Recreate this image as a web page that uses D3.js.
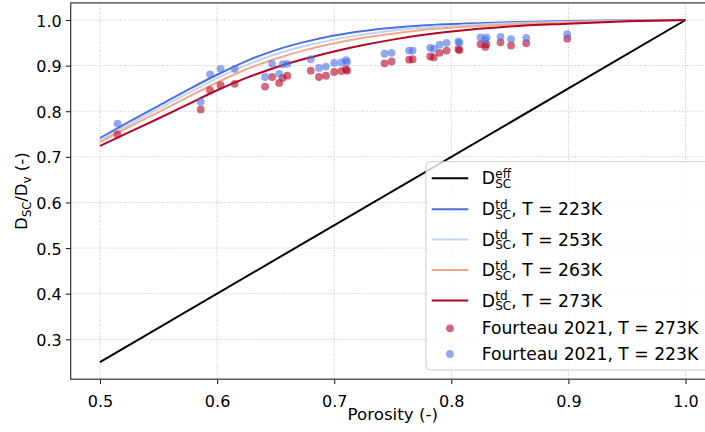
<!DOCTYPE html>
<html>
<head>
<meta charset="utf-8">
<script src="https://cdn.jsdelivr.net/npm/d3@7"></script>
<style>
  html, body { margin: 0; padding: 0; background: #ffffff; }
  svg { display: block; }
  text { font-family: "DejaVu Sans", sans-serif; fill: #000; }
</style>
</head>
<body>
<svg id="chart" width="705" height="432"></svg>
<script>
// Porosity grid for the modelled diffusivity curves
const porosityGrid = [0.500, 0.525, 0.550, 0.575, 0.600, 0.625, 0.650, 0.675, 0.700,
  0.725, 0.750, 0.775, 0.800, 0.850, 0.900, 0.950, 1.000];
// Effective diffusivity D_SC^eff (straight line)
const effPorosity = [0.50, 1.00];
const effValues = [0.25, 1.00];
// Temperature-dependent diffusivity D_SC^td for each temperature
const td223 = [0.741, 0.777, 0.812, 0.847, 0.880, 0.910, 0.934, 0.952, 0.966,
  0.976, 0.983, 0.988, 0.991, 0.995, 0.998, 0.999, 1.000];
const td253 = [0.737, 0.771, 0.805, 0.839, 0.872, 0.901, 0.925, 0.943, 0.957,
  0.968, 0.977, 0.983, 0.987, 0.993, 0.996, 0.998, 1.000];
const td263 = [0.732, 0.766, 0.798, 0.831, 0.863, 0.892, 0.915, 0.934, 0.949,
  0.961, 0.970, 0.978, 0.983, 0.990, 0.995, 0.998, 1.000];
const td273 = [0.724, 0.754, 0.784, 0.815, 0.846, 0.873, 0.896, 0.915, 0.931,
  0.945, 0.957, 0.967, 0.975, 0.986, 0.992, 0.997, 1.000];

// Fourteau 2021 samples
const fourteauPorosity = [0.515, 0.586, 0.594, 0.603, 0.615, 0.641, 0.647, 0.653, 0.656, 0.660,
  0.680, 0.687, 0.693, 0.700, 0.706, 0.710, 0.711, 0.743, 0.749, 0.764, 0.767, 0.782, 0.785,
  0.790, 0.796, 0.806, 0.807, 0.825, 0.829, 0.830, 0.842, 0.851, 0.864, 0.899];
const fourteau273 = [0.749, 0.804, 0.846, 0.857, 0.860, 0.854, 0.875, 0.862, 0.873, 0.878,
  0.889, 0.875, 0.878, 0.886, 0.888, 0.892, 0.889, 0.905, 0.909, 0.913, 0.914, 0.920, 0.918,
  0.928, 0.933, 0.936, 0.934, 0.947, 0.941, 0.947, 0.951, 0.944, 0.949, 0.959];
const fourteau223 = [0.773, 0.821, 0.881, 0.893, 0.893, 0.875, 0.904, 0.882, 0.903, 0.904,
  0.914, 0.895, 0.898, 0.906, 0.907, 0.912, 0.908, 0.926, 0.928, 0.933, 0.933, 0.939, 0.937,
  0.946, 0.950, 0.953, 0.950, 0.962, 0.956, 0.962, 0.963, 0.958, 0.961, 0.969];

const xTicks = [0.5, 0.6, 0.7, 0.8, 0.9, 1.0];
const yTicks = [0.3, 0.4, 0.5, 0.6, 0.7, 0.8, 0.9, 1.0];

const colors = {
  eff: "#000000",
  t223: "#4a6fe3",
  t253: "#c0d4f5",
  t263: "#f5a889",
  t273: "#b40426"
};

const svg = d3.select("#chart");

const plot = { left: 70.7, right: 714.8, top: 2.9, bottom: 379.2 };
const x = d3.scaleLinear().domain([0.475, 1.025]).range([plot.left, plot.right]);
const y = d3.scaleLinear().domain([0.2125, 1.0375]).range([plot.bottom, plot.top]);

// Dotted grid
const grid = svg.append("g");
grid.selectAll("line.gx").data(xTicks).join("line")
  .attr("x1", d => x(d)).attr("x2", d => x(d))
  .attr("y1", plot.top).attr("y2", plot.bottom)
  .attr("stroke", "#b0b0b0").attr("stroke-width", 0.8).attr("stroke-dasharray", "1,1.6");
grid.selectAll("line.gy").data(yTicks).join("line")
  .attr("x1", plot.left).attr("x2", plot.right)
  .attr("y1", d => y(d)).attr("y2", d => y(d))
  .attr("stroke", "#b0b0b0").attr("stroke-width", 0.8).attr("stroke-dasharray", "1,1.6");

const line = d3.line().x(d => x(d[0])).y(d => y(d[1])).curve(d3.curveMonotoneX);

const curves = [
  { vals: td223, color: colors.t223 },
  { vals: td253, color: colors.t253 },
  { vals: td263, color: colors.t263 },
  { vals: td273, color: colors.t273 }
];

const body = svg.append("g");
body.append("path")
  .attr("d", line(effPorosity.map((p, i) => [p, effValues[i]])))
  .attr("fill", "none").attr("stroke", colors.eff).attr("stroke-width", 2);
curves.forEach(c => {
  body.append("path")
    .attr("d", line(porosityGrid.map((p, i) => [p, c.vals[i]])))
    .attr("fill", "none").attr("stroke", c.color).attr("stroke-width", 2);
});

// Scatter points
body.selectAll("circle.r").data(fourteauPorosity.map((p, i) => [p, fourteau273[i]])).join("circle")
  .attr("cx", d => x(d[0])).attr("cy", d => y(d[1])).attr("r", 3.9)
  .attr("fill", colors.t273).attr("fill-opacity", 0.6);
body.selectAll("circle.b").data(fourteauPorosity.map((p, i) => [p, fourteau223[i]])).join("circle")
  .attr("cx", d => x(d[0])).attr("cy", d => y(d[1])).attr("r", 3.9)
  .attr("fill", colors.t223).attr("fill-opacity", 0.6);

// Axes
const xAxis = svg.append("g").attr("transform", `translate(0,${plot.bottom})`)
  .call(d3.axisBottom(x).tickValues(xTicks).tickFormat(d3.format(".1f")).tickSize(4.9).tickSizeOuter(0));
const yAxis = svg.append("g").attr("transform", `translate(${plot.left},0)`)
  .call(d3.axisLeft(y).tickValues(yTicks).tickFormat(d3.format(".1f")).tickSize(4.9).tickSizeOuter(0));
[xAxis, yAxis].forEach(a => {
  a.select(".domain").remove();
  a.selectAll(".tick line").attr("stroke", "#222").attr("stroke-width", 1.1);
  a.selectAll(".tick text").attr("font-size", 16).attr("font-family", "DejaVu Sans").attr("fill", "#000");
});
xAxis.selectAll(".tick text").attr("y", 28).attr("dy", 0);
yAxis.selectAll(".tick text").attr("x", -9).attr("dy", 6);

// Spines
svg.append("rect")
  .attr("x", plot.left).attr("y", plot.top)
  .attr("width", plot.right - plot.left).attr("height", plot.bottom - plot.top)
  .attr("fill", "none").attr("stroke", "#333").attr("stroke-width", 1.2);

// Axis labels
svg.append("text").attr("x", (plot.left + plot.right) / 2).attr("y", 420)
  .attr("text-anchor", "middle").attr("font-size", 16.7).text("Porosity (-)");

const yl = svg.append("text")
  .attr("transform", `translate(26.5,${(plot.top + plot.bottom) / 2}) rotate(-90)`)
  .attr("text-anchor", "middle").attr("font-size", 16.7);
yl.append("tspan").text("D");
yl.append("tspan").attr("font-size", 11.5).attr("dy", 4).text("SC");
yl.append("tspan").attr("dy", -4).text("/D");
yl.append("tspan").attr("font-size", 11.5).attr("dy", 4).text("v");
yl.append("tspan").attr("dy", -4).text(" (-)");

// Legend
const legend = svg.append("g");
legend.append("rect")
  .attr("x", 426).attr("y", 161.7).attr("width", 284).attr("height", 208.3).attr("rx", 4)
  .attr("fill", "#ffffff").attr("fill-opacity", 0.8)
  .attr("stroke", "#cccccc").attr("stroke-width", 1);

const legendRows = [
  { type: "line", color: colors.eff, sup: "eff", rest: "", cy: 178.3 },
  { type: "line", color: colors.t223, sup: "td", rest: ", T = 223K", cy: 209.3 },
  { type: "line", color: colors.t253, sup: "td", rest: ", T = 253K", cy: 239.6 },
  { type: "line", color: colors.t263, sup: "td", rest: ", T = 263K", cy: 270 },
  { type: "line", color: colors.t273, sup: "td", rest: ", T = 273K", cy: 300.5 },
  { type: "dot", color: colors.t273, label: "Fourteau 2021, T = 273K", cy: 328.3 },
  { type: "dot", color: colors.t223, label: "Fourteau 2021, T = 223K", cy: 354 }
];

const mainSize = 17.2, scriptSize = 12;
function measure(str, size) {
  const t = svg.append("text").attr("font-size", size).text(str);
  const w = t.node().getComputedTextLength();
  t.remove();
  return w;
}

legendRows.forEach(r => {
  const base = r.cy + 6;
  if (r.type === "line") {
    legend.append("line").attr("x1", 431.7).attr("x2", 468.3)
      .attr("y1", r.cy).attr("y2", r.cy)
      .attr("stroke", r.color).attr("stroke-width", 2);
    // D with stacked superscript and "SC" subscript in one text element
    const x0 = 481.7;
    const sx = x0 + measure("D", mainSize) + 0.3;
    const w = Math.max(measure(r.sup, scriptSize), measure("SC", scriptSize));
    const t = legend.append("text").attr("x", x0).attr("y", base).attr("font-size", mainSize)
      .style("white-space", "pre");
    t.append("tspan").text("D");
    t.append("tspan").attr("x", sx).attr("y", base - 6.5).attr("font-size", scriptSize).text(r.sup);
    t.append("tspan").attr("x", sx).attr("y", base + 3.5).attr("font-size", scriptSize).text("SC");
    if (r.rest) {
      t.append("tspan").attr("x", sx + w).attr("y", base).text(r.rest);
    }
  } else {
    legend.append("circle").attr("cx", 450).attr("cy", r.cy).attr("r", 3.9)
      .attr("fill", r.color).attr("fill-opacity", 0.6);
    legend.append("text").attr("x", 481.7).attr("y", base).attr("font-size", mainSize).text(r.label);
  }
});
</script>
</body>
</html>
